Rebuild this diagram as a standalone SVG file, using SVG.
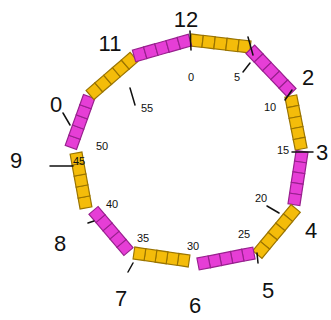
<svg xmlns="http://www.w3.org/2000/svg" width="331" height="320" viewBox="0 0 331 320">
<style>
.o{fill:#F4BC0A;stroke:#9A7400;stroke-width:1.2}
.m{fill:#E63ED6;stroke:#98208E;stroke-width:1.2}
.big{font-family:"Liberation Sans",Arial,sans-serif;font-size:22px;fill:#111;text-anchor:middle;dominant-baseline:central}
.sm{font-family:"Liberation Sans",Arial,sans-serif;font-size:11px;fill:#111;text-anchor:middle;dominant-baseline:central}
.tk{stroke:#111;stroke-width:1.5;fill:none;stroke-linecap:round}
</style>
<defs>
<g id="seg">
<rect x="-30" y="-6" width="12" height="12"/>
<rect x="-18" y="-6" width="12" height="12"/>
<rect x="-6" y="-6" width="12" height="12"/>
<rect x="6" y="-6" width="12" height="12"/>
<rect x="18" y="-6" width="12" height="12"/>
</g>
</defs>
<g id="strips">
<g id="s0" class="o" transform="translate(220.5,43.5) rotate(6.8)"><use href="#seg"/></g>
<g id="s5" class="m" transform="translate(271,71) rotate(46.4)"><use href="#seg"/></g>
<g id="s10" class="o" transform="translate(296,122.5) rotate(78.9) scale(0.9,1)"><use href="#seg"/></g>
<g id="s15" class="m" transform="translate(298,178) rotate(98.7) scale(0.9,1)"><use href="#seg"/></g>
<g id="s20" class="o" transform="translate(276.5,231.5) rotate(129.7)"><use href="#seg"/></g>
<g id="s25" class="m" transform="translate(226,258.5) rotate(168.9) scale(0.95,1)"><use href="#seg"/></g>
<g id="s30" class="o" transform="translate(161.5,257) rotate(188.3) scale(0.93,1)"><use href="#seg"/></g>
<g id="s35" class="m" transform="translate(111,231) rotate(229.6) scale(0.9,1)"><use href="#seg"/></g>
<g id="s40" class="o" transform="translate(81,180.5) rotate(259.7) scale(0.93,1)"><use href="#seg"/></g>
<g id="s45" class="m" transform="translate(80,122) rotate(-70.2) scale(0.9,1)"><use href="#seg"/></g>
<g id="s50" class="o" transform="translate(112,76) rotate(-40.8) scale(0.97,1)"><use href="#seg"/></g>
<g id="s55" class="m" transform="translate(162,48) rotate(-15.9) scale(0.97,1)"><use href="#seg"/></g>
</g>
<g id="ticks">
<line class="tk" x1="190" y1="31" x2="191" y2="50"/>
<line class="tk" x1="248" y1="37" x2="253" y2="55"/>
<line class="tk" x1="243" y1="72" x2="250" y2="63"/>
<line class="tk" x1="285" y1="100" x2="292" y2="90"/>
<line class="tk" x1="292" y1="152" x2="313" y2="152"/>
<line class="tk" x1="267" y1="206" x2="279" y2="213"/>
<line class="tk" x1="257" y1="253" x2="258" y2="263"/>
<line class="tk" x1="128" y1="272" x2="133" y2="263"/>
<line class="tk" x1="88" y1="223" x2="94" y2="221"/>
<line class="tk" x1="50" y1="166" x2="73" y2="166"/>
<line class="tk" x1="63" y1="113" x2="70" y2="125"/>
<line class="tk" x1="130" y1="88" x2="135" y2="105"/>
</g>
<g id="labels">
<text class="big" x="186" y="19">12</text>
<text class="big" x="308" y="77">2</text>
<text class="big" x="322" y="152">3</text>
<text class="big" x="311" y="230">4</text>
<text class="big" x="268" y="290">5</text>
<text class="big" x="195" y="305">6</text>
<text class="big" x="121" y="298">7</text>
<text class="big" x="60" y="243">8</text>
<text class="big" x="16" y="160">9</text>
<text class="big" x="56" y="104">0</text>
<text class="big" x="110" y="43">11</text>
<text class="sm" x="191" y="77">0</text>
<text class="sm" x="237" y="77">5</text>
<text class="sm" x="270" y="107">10</text>
<text class="sm" x="283" y="150">15</text>
<text class="sm" x="261" y="198">20</text>
<text class="sm" x="244" y="234">25</text>
<text class="sm" x="193" y="246">30</text>
<text class="sm" x="143" y="238">35</text>
<text class="sm" x="112" y="204">40</text>
<text class="sm" x="79" y="161">45</text>
<text class="sm" x="102" y="146">50</text>
<text class="sm" x="147" y="108">55</text>
</g>
</svg>
